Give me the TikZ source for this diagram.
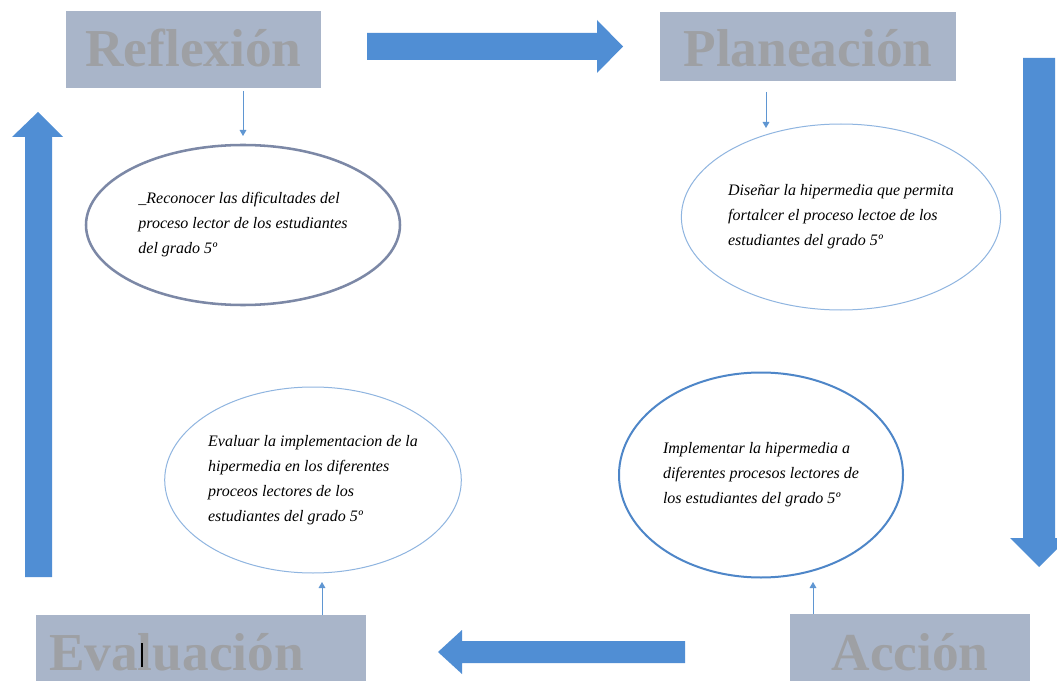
\documentclass[tikz,border=0pt]{standalone}
\usepackage{fontspec}
\setmainfont{Liberation Serif}
\usetikzlibrary{shapes.geometric,arrows.meta}
\definecolor{boxfill}{RGB}{169,181,201}
\definecolor{labelgrey}{RGB}{158,160,164}
\definecolor{arrowblue}{RGB}{80,142,212}
\definecolor{thinblue}{RGB}{95,150,210}
\definecolor{ringgrey}{RGB}{124,136,166}
\definecolor{ringlight}{RGB}{143,181,224}
\definecolor{ringblue}{RGB}{78,134,200}
\begin{document}
\begin{tikzpicture}[x=0.75pt,y=-0.75pt,
  stagebox/.style={rectangle, fill=boxfill, inner sep=0pt, text=labelgrey,
    font=\fontsize{40}{40}\selectfont\bfseries},
  goal/.style={ellipse, inner sep=0pt, align=left, fill=white,
    font=\fontsize{12}{18.75}\selectfont\itshape},
  bigarrow/.style={fill=arrowblue, draw=none},
  smallarrow/.style={draw=thinblue, line width=0.75pt, -{Triangle[width=5pt,length=4.5pt]}}
]
\useasboundingbox[fill=white] (0,0) rectangle (1057,681);

% stage boxes
\node[stagebox, minimum width=191.25pt, text height=42pt, text depth=15.75pt] (refl) at (193.5,49.5) {Reflexión};
\node[stagebox, minimum width=222pt, text height=41.25pt, text depth=10.5pt] (plan) at (808,46.5) {Planeación};
\node[stagebox, minimum width=180pt, text height=42pt, text depth=15.75pt] (acc) at (910,652.5) {Acción};
\node[stagebox, minimum width=247.5pt, text height=41.25pt, text depth=15.75pt] (eval) at (201,653) {\makebox[247.5pt][l]{\hspace*{9.75pt}Evaluación}};
\draw[black, line width=0.9pt] (142,643) -- (142,667);

% goal ellipses
\node[goal, draw=ringgrey, line width=1.9pt, minimum width=235.5pt, minimum height=120pt] (e1) at (243,225)
  {\_Reconocer las dificultades del\\proceso lector de los estudiantes\\del grado 5º};
\node[goal, draw=ringlight, line width=0.75pt, minimum width=237.75pt, minimum height=139.5pt] (e2) at (841,217)
  {Diseñar la hipermedia que permita\\fortalcer el proceso lectoe de los\\estudiantes del grado 5º};
\node[goal, draw=ringblue, line width=1.5pt, minimum width=213pt, minimum height=153.75pt] (e3) at (761,475)
  {Implementar la hipermedia a\\diferentes procesos lectores de\\los estudiantes del grado 5º};
\node[goal, draw=ringlight, line width=0.75pt, minimum width=220.5pt, minimum height=139.5pt] (e4) at (313,480)
  {Evaluar la implementacion de la\\hipermedia en los diferentes\\proceos lectores de los\\estudiantes del grado 5º};

% small connectors
\coordinate (t1) at (243,136);
\coordinate (t2) at (766,128);
\coordinate (t3) at (813,582);
\coordinate (t4) at (322,582);
\draw[smallarrow, shorten <=2pt] (refl.south -| t1) -- (t1);
\draw[smallarrow, shorten <=8pt] (plan.south -| t2) -- (t2);
\draw[smallarrow] (acc.north -| t3) -- (t3);
\draw[smallarrow] (eval.north -| t4) -- (t4);

% big cycle arrows
\fill[bigarrow] (367,33) -- (597,33) -- (597,20) -- (623,46.5) -- (597,73) -- (597,60) -- (367,60) -- cycle;
\fill[bigarrow] (1023,58) -- (1055,58) -- (1055,538) -- (1068,538) -- (1039,567) -- (1010,538) -- (1023,538) -- cycle;
\fill[bigarrow] (685,641) -- (462,641) -- (462,630) -- (438,652) -- (462,674) -- (462,663) -- (685,663) -- cycle;
\fill[bigarrow] (25,577) -- (25,137) -- (12,137) -- (38,112) -- (63,137) -- (52,137) -- (52,577) -- cycle;
\end{tikzpicture}
\end{document}
